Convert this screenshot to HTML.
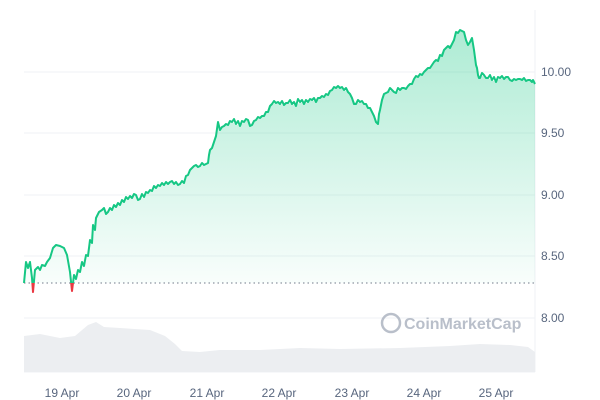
<!DOCTYPE html>
<html><head><meta charset="utf-8"><style>
html,body{margin:0;padding:0;background:#fff;}
svg{display:block;font-family:"Liberation Sans",sans-serif;}
</style></head><body>
<svg width="600" height="400" viewBox="0 0 600 400">
<defs>
<linearGradient id="g" x1="0" y1="0" x2="0" y2="1">
<stop offset="0" stop-color="#16c784" stop-opacity="0.35"/>
<stop offset="1" stop-color="#16c784" stop-opacity="0.02"/>
</linearGradient>
<clipPath id="above"><rect x="0" y="0" width="600" height="283"/></clipPath>
<clipPath id="below"><rect x="0" y="283" width="600" height="120"/></clipPath>
<path id="ln" d="M24,283 L26,262 L28,268 L30,262 L32,278 L33,292 L35,270 L38,267 L40,270 L42,265 L45,266 L47,262 L50,258 L53,248 L56,245 L60,246 L64,248 L67,255 L70,272 L72,291 L74,275 L76,279 L78,270 L80,272 L82,262 L84,266 L86,255 L88,256 L90,240 L92,243 L93,225 L95,230 L96,218 L99,212 L102,210 L104,208 L106,214 L108,212 L110,208 L112,210 L114,205 L116,207 L118,203 L120,205 L122,200 L124,202 L126,197 L128,199 L130,196 L132,198 L134,194 L136,195 L138,200 L140,199 L142,194 L144,197 L146,192 L148,193 L150,190 L152,191 L154,186 L156,188 L158,185 L160,186 L162,183 L164,185 L166,182 L168,184 L170,182 L172,181 L174,184 L176,182 L178,185 L180,184 L182,181 L184,183 L186,176 L188,175 L190,170 L192,168 L194,166 L196,165 L198,167 L200,166 L202,163 L204,165 L206,164 L208,163 L209,155 L210,150 L212,148 L213,145 L214,142 L216,136 L218,122 L220,130 L222,127 L224,126 L226,124 L228,125 L230,121 L232,122 L234,119 L236,124 L238,121 L240,126 L242,121 L244,122 L246,119 L248,120 L250,126 L252,125 L254,121 L256,120 L258,117 L260,118 L262,116 L264,116 L266,112 L268,112 L270,106 L272,104 L274,101 L276,103 L278,102 L280,104 L282,101 L284,105 L286,103 L288,103 L290,100 L292,104 L294,102 L296,106 L298,99 L300,102 L302,100 L304,104 L306,100 L308,102 L310,99 L312,100 L314,98 L316,102 L318,98 L320,98 L322,96 L324,97 L326,94 L328,95 L330,91 L332,90 L334,87 L336,88 L338,86 L340,88 L342,87 L344,90 L346,88 L348,92 L350,94 L352,98 L354,104 L356,104 L358,100 L360,102 L362,101 L364,104 L366,104 L368,108 L370,108 L372,112 L374,116 L376,122 L378,124 L379,114 L380,110 L382,100 L384,94 L386,93 L388,92 L390,88 L392,90 L394,92 L396,93 L398,88 L400,90 L402,88 L404,88 L406,89 L408,86 L410,84 L412,84 L414,79 L416,76 L418,77 L420,74 L422,75 L424,72 L426,70 L428,68 L430,68 L432,65 L434,62 L436,60 L438,61 L440,55 L442,56 L444,50 L446,48 L448,46 L450,48 L452,44 L454,40 L456,32 L458,33 L460,30 L462,31 L464,32 L466,40 L468,45 L470,42 L472,38 L474,50 L476,65 L477,68 L478,75 L479,78 L480,78 L482,73 L484,75 L486,78 L488,78 L490,75 L492,80 L494,77 L496,82 L498,77 L500,78 L502,76 L504,79 L506,77 L508,77 L510,80 L512,81 L514,79 L516,80 L518,79 L520,79 L522,80 L524,78 L526,81 L528,80 L530,80 L532,82 L533,80 L535,84"/>
</defs>
<g stroke="#eff2f5" stroke-width="1">
<line x1="24" y1="72" x2="535" y2="72"/>
<line x1="24" y1="133" x2="535" y2="133"/>
<line x1="24" y1="195" x2="535" y2="195"/>
<line x1="24" y1="256" x2="535" y2="256"/>
<line x1="24" y1="318" x2="535" y2="318"/>
<line x1="535" y1="10" x2="535" y2="372"/>
<line x1="24" y1="372" x2="535" y2="372"/>
</g>
<path fill="#eceef1" d="M24,336 L40,334 L60,338 L75,336 L88,325 L96,322 L104,327 L120,328 L150,330 L165,336 L175,344 L182,351 L200,352 L220,350 L260,350 L300,348 L340,349 L400,348 L450,346 L480,344 L510,345 L528,347 L535,352 L535,372 L24,372 Z"/>
<g font-size="12" fill="#58667e">
<text x="541" y="76">10.00</text>
<text x="541" y="137">9.50</text>
<text x="541" y="199">9.00</text>
<text x="541" y="260">8.50</text>
<text x="541" y="322">8.00</text>
<g text-anchor="middle">
<text x="62" y="397">19 Apr</text><text x="134" y="397">20 Apr</text><text x="207" y="397">21 Apr</text><text x="279" y="397">22 Apr</text><text x="352" y="397">23 Apr</text><text x="424" y="397">24 Apr</text><text x="496" y="397">25 Apr</text>
</g></g>
<g fill="#a8b0bd" opacity="0.8">
<circle cx="391" cy="323" r="9" fill="none" stroke="#a8b0bd" stroke-width="2.5"/>
<text x="404" y="329" font-size="16" font-weight="bold">CoinMarketCap</text>
</g>
<g clip-path="url(#above)">
<path fill="url(#g)" d="M24,283 L26,262 L28,268 L30,262 L32,278 L35,270 L38,267 L42,265 L47,262 L50,258 L53,248 L56,245 L60,246 L64,248 L67,255 L70,272 L72,288 L74,275 L78,270 L80,272 L82,262 L86,255 L90,240 L93,225 L96,218 L99,212 L102,210 L104,208 L108,212 L112,208 L116,205 L120,203 L124,200 L128,198 L132,196 L136,195 L140,200 L144,197 L148,192 L152,190 L156,186 L160,185 L164,184 L168,183 L172,182 L176,183 L180,184 L184,183 L188,175 L192,168 L196,165 L200,166 L204,165 L208,163 L210,150 L212,148 L214,142 L218,122 L220,130 L224,126 L228,124 L232,122 L236,124 L240,126 L244,122 L248,120 L252,125 L256,120 L260,118 L264,116 L268,112 L272,104 L276,103 L280,104 L284,105 L288,103 L292,104 L296,106 L300,102 L304,104 L308,102 L312,100 L316,102 L320,98 L324,97 L328,95 L332,90 L336,88 L340,88 L344,90 L348,92 L352,98 L356,104 L360,102 L364,104 L368,108 L372,112 L376,122 L378,124 L380,110 L382,100 L384,94 L388,92 L392,90 L396,93 L400,90 L404,88 L408,86 L412,84 L416,76 L420,74 L424,72 L428,68 L432,65 L436,60 L440,55 L444,50 L448,46 L452,44 L456,32 L460,30 L464,32 L466,40 L468,45 L470,42 L472,38 L474,50 L476,65 L478,75 L480,78 L484,75 L488,78 L492,80 L496,82 L500,78 L504,79 L508,77 L512,81 L516,80 L520,79 L524,78 L528,80 L532,82 L535,84 L535,283 Z"/>
</g>
<line x1="24" y1="283" x2="535" y2="283" stroke="#707a8a" stroke-width="1" stroke-dasharray="1.5,3"/>
<g fill="none" stroke-width="2" stroke-linejoin="round">
<g clip-path="url(#above)"><use href="#ln" stroke="#16c784"/></g>
<g clip-path="url(#below)"><use href="#ln" stroke="#ea3943"/></g>
</g>
</svg>
</body></html>
